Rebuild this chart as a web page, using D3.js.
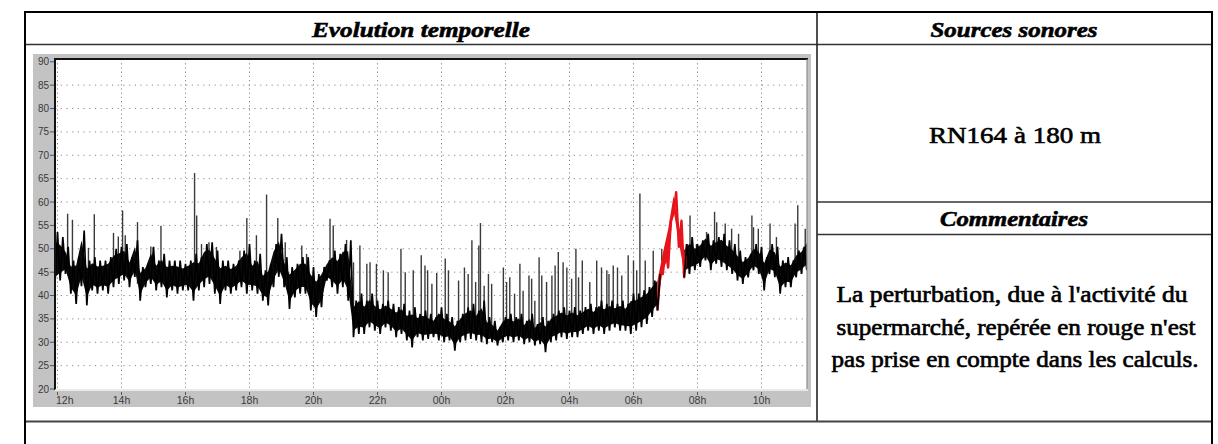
<!DOCTYPE html>
<html><head><meta charset="utf-8">
<script src="https://cdn.jsdelivr.net/npm/d3@7"></script>
<style>
body{margin:0;background:#fff}svg{display:block}
.serif{font-family:"Liberation Serif","Times New Roman",Times,serif}
.sans{font-family:"Liberation Sans",Arial,Helvetica,sans-serif}
</style>
</head><body>
<svg id="c" width="1218" height="444"></svg>
<script>
// ---- data ----
const yTicks = [20,25,30,35,40,45,50,55,60,65,70,75,80,85,90];
const xTickMinutes = [0,120,240,360,480,600,720,840,960,1080,1200,1320]; // minutes after 12h
const xTickLabels = ["12h","14h","16h","18h","20h","22h","00h","02h","04h","06h","08h","10h"];

// 10-minute min/max envelope of the level (dB), first sample at 11h55
const sampleStartMinute = -5;
const sampleStepMinutes = 10;
const bandLow = [
41.8,43.2,44.6,40.4,38.2,42.0,37.9,41.1,40.4,41.1,40.4,41.8,42.5,43.2,41.8,44.0,38.9,41.8,42.5,41.1,
41.8,39.6,41.1,40.4,41.1,41.1,38.9,41.1,41.8,42.5,40.4,38.2,41.1,40.4,41.1,41.8,
40.4,41.1,40.4,38.9,37.9,41.8,44.0,41.8,37.1,39.6,40.4,40.4,36.8,35.4,37.5,43.2,41.8,40.4,41.8,38.9,
31.1,31.8,31.8,33.2,32.5,31.8,33.2,32.5,31.1,31.8,30.4,28.9,31.1,30.4,30.7,31.1,
30.4,30.0,30.4,28.2,30.0,30.4,30.7,30.4,30.0,29.6,30.0,29.3,30.0,30.4,30.0,30.4,29.6,30.0,29.3,29.6,
27.9,30.0,30.4,31.1,30.7,31.1,31.1,31.8,32.5,31.8,32.5,31.8,32.5,33.2,32.5,32.5,
31.8,32.5,33.2,33.9,35.4,36.8,44.6,46.0,57.5,50.4,43.9,44.6,45.4,46.1,47.5,45.4,46.8,46.1,45.4,44.6,
43.2,42.5,43.9,45.4,44.6,41.1,44.6,43.9,40.4,41.8,41.8,43.9,44.6,45.4
];
const bandHigh = [
53.6,52.5,50.4,47.5,48.2,53.9,47.5,48.2,47.5,47.5,48.2,50.0,50.4,51.0,48.2,51.8,46.1,46.8,50.4,47.5,
48.9,47.5,47.5,47.5,46.8,47.5,48.9,48.2,51.0,51.4,49.6,47.5,47.5,46.8,47.5,49.6,
51.0,47.5,48.9,45.4,46.8,51.0,53.2,48.2,46.1,46.8,48.2,48.2,46.1,44.6,46.1,47.5,49.6,48.9,51.0,51.8,
38.9,40.4,38.9,40.4,38.9,38.2,38.9,38.2,37.5,38.2,36.8,37.5,36.1,36.8,36.1,35.4,
37.5,36.1,35.4,34.6,36.1,37.5,38.2,36.8,38.9,35.4,34.6,33.2,35.4,36.1,35.4,36.1,34.6,36.1,33.9,35.4,
34.6,36.1,36.8,37.5,36.8,37.5,36.8,37.5,38.2,37.5,38.9,38.2,38.9,38.2,38.9,38.2,
40.4,40.4,41.1,41.8,43.2,44.6,50.0,56.0,62.1,56.0,51.0,52.5,51.0,51.8,53.2,51.8,52.5,53.2,51.8,51.0,
49.6,48.2,48.9,51.0,50.4,48.2,51.0,50.4,47.5,48.2,47.5,49.6,50.4,52.5
];

// isolated peaks: minutes after 12h and level (dB)
const peakMinutes = [19,28,58,69,105,114,122,127,150,175,194,257,261,270,284,298,342,
355,373,392,413,427,458,467,511,517,542,555,567,580,586,598,611,620,644,652,667,682,689,694,702,
711,727,733,752,763,770,777,784,790,793,800,808,814,836,842,848,857,867,873,884,889,895,903,908,
917,927,933,939,948,955,964,972,977,984,998,1011,1020,1030,1034,1042,1050,1058,
1070,1080,1086,1092,1102,1117,1133,1186,1198,1217,1232,1236,1252,1264,1277,1302,1305,1314,1336,1348,1383,1388,1402];
const peakLevels = [57.5,56.2,50.2,57.4,53.4,52.6,58.2,52.9,55.7,50.5,54.9,66.2,57.1,51.0,51.4,50.4,49.6,
56.6,52.9,61.6,56.6,51.4,50.7,48.9,56.4,55.0,51.9,47.1,50.7,46.8,47.1,46.8,45.4,45.0,50.0,45.0,45.4,48.6,46.4,45.4,42.5,
44.8,47.9,45.4,43.2,46.0,44.6,51.8,42.9,50.7,55.5,42.1,44.6,42.5,46.0,42.9,43.9,40.4,46.8,41.0,44.3,43.6,38.9,48.2,44.3,
42.9,44.3,46.4,49.3,47.1,46.0,43.6,50.0,43.9,47.5,42.9,47.5,46.0,45.4,44.6,46.4,46.0,44.3,
48.6,47.5,45.4,61.8,47.5,49.6,50.0,57.1,51.0,53.6,57.9,55.7,55.4,54.3,53.2,57.1,54.6,54.3,55.4,52.5,55.4,59.3,54.3];

// disturbance (supermarket activity), shown in red: 06h55 - 07h25
const redFromMinute = 1135;
const redToMinute = 1165;

// ---- drawing ----
const svg = d3.select("#c");

// chart widget background
svg.append("rect").attr("x",33).attr("y",54).attr("width",778).attr("height",353).attr("fill","#c3c3c3");
svg.append("rect").attr("x",55).attr("y",59).attr("width",752).attr("height",330).attr("fill","#fff");

const x = d3.scaleLinear().domain([0,1440]).range([57.5,825.5]);
const y = d3.scaleLinear().domain([20,90]).range([389,61.8]);

svg.append("defs").append("clipPath").attr("id","plotclip")
  .append("rect").attr("x",55).attr("y",59).attr("width",752).attr("height",330);

// grid
const grid = svg.append("g").attr("clip-path","url(#plotclip)");
grid.selectAll(".hg").data(yTicks.filter(v=>v>20&&v<90)).join("line")
  .attr("x1",55).attr("x2",807).attr("y1",d=>y(d)).attr("y2",d=>y(d))
  .attr("stroke","#8a8a8a").attr("stroke-width",1).attr("stroke-dasharray","1.2,4.5");
grid.selectAll(".vg").data(xTickMinutes).join("line")
  .attr("x1",d=>x(d)).attr("x2",d=>x(d)).attr("y1",59).attr("y2",389)
  .attr("stroke","#8a8a8a").attr("stroke-width",1).attr("stroke-dasharray","1.2,3");

// samples: each 10-min slot drawn min -> max (min/max decimated trace)
const samples = bandLow.map((v,i)=>({t: sampleStartMinute + i*sampleStepMinutes, lo: v, hi: bandHigh[i]}));
const trace = [];
samples.forEach(d=>{ trace.push({t:d.t, v:d.lo}); trace.push({t:d.t+sampleStepMinutes/2, v:d.hi}); });
const plot = svg.append("g").attr("clip-path","url(#plotclip)");

// peaks
plot.selectAll(".pk").data(peakMinutes.map((t,i)=>({t, v: peakLevels[i]}))).join("line")
  .attr("x1",d=>x(d.t)).attr("x2",d=>x(d.t))
  .attr("y1",d=>y(d.v))
  .attr("y2",d=>{const i=Math.max(0,Math.min(samples.length-1,Math.round((d.t-sampleStartMinute)/sampleStepMinutes)));return y((samples[i].lo+samples[i].hi)/2);})
  .attr("stroke","#3a3a3a").attr("stroke-width",1.4);

const line = d3.line().x(d=>x(d.t)).y(d=>y(d.v));
const core = 0.18;
const area = d3.area().x(d=>x(d.t)).y0(d=>y(d.lo+(d.hi-d.lo)*core)).y1(d=>y(d.hi-(d.hi-d.lo)*core));
const isRed = t => t>=redFromMinute && t<=redToMinute+sampleStepMinutes/2;
// dense core of the black trace
plot.append("path").datum(samples).attr("d",area.defined(d=>!isRed(d.t)))
  .attr("fill","#0a0a0a");
// red part (neighbouring points included so the trace stays continuous)
const redSamples = samples.filter(d=>d.t>=redFromMinute-10 && d.t<=redToMinute+10);
plot.append("path").datum(redSamples).attr("d",d3.area().x(d=>x(d.t)).y0(d=>y(d.lo+(d.hi-d.lo)*core)).y1(d=>y(d.hi-(d.hi-d.lo)*core)))
  .attr("fill","#e8141b");
plot.append("path").datum(trace.filter(d=>d.t>=redFromMinute-10 && d.t<=redToMinute+15)).attr("d",line)
  .attr("fill","none").attr("stroke","#e8141b").attr("stroke-width",2.4).attr("stroke-linejoin","round");
// black part
plot.append("path").datum(trace).attr("d",line.defined(d=>!isRed(d.t)))
  .attr("fill","none").attr("stroke","#000").attr("stroke-width",1.7).attr("stroke-linejoin","bevel");

// plot borders (inset look)
svg.append("line").attr("x1",55).attr("x2",55).attr("y1",58).attr("y2",390).attr("stroke","#111").attr("stroke-width",2);
svg.append("line").attr("x1",54).attr("x2",808).attr("y1",59).attr("y2",59).attr("stroke","#111").attr("stroke-width",2);
svg.append("line").attr("x1",807).attr("x2",807).attr("y1",59).attr("y2",390).attr("stroke","#8c8c8c").attr("stroke-width",1.2);
svg.append("line").attr("x1",55).attr("x2",808).attr("y1",390).attr("y2",390).attr("stroke","#f4f4f4").attr("stroke-width",1.5);

// y axis
const ya = svg.append("g");
ya.selectAll("text").data(yTicks).join("text").attr("class","sans")
  .attr("x",49).attr("y",d=>y(d)+3.5).attr("text-anchor","end")
  .attr("font-size",10).attr("fill","#3a3a3a").text(d=>d);
ya.selectAll("line").data(yTicks).join("line")
  .attr("x1",50).attr("x2",54).attr("y1",d=>y(d)).attr("y2",d=>y(d))
  .attr("stroke","#555").attr("stroke-width",1);

// x axis
const xa = svg.append("g");
xa.selectAll("line").data(xTickMinutes).join("line")
  .attr("x1",d=>x(d)).attr("x2",d=>x(d)).attr("y1",392).attr("y2",395)
  .attr("stroke","#555").attr("stroke-width",1);
xa.selectAll("text").data(xTickMinutes).join("text").attr("class","sans")
  .attr("x",(d,i)=> i===0 ? 56 : x(d)).attr("y",403.5)
  .attr("text-anchor",(d,i)=> i===0 ? "start" : "middle")
  .attr("font-size",10.5).attr("fill","#3a3a3a")
  .text((d,i)=>xTickLabels[i]);

// table lines
const tl = svg.append("g").attr("fill","none");
tl.append("line").attr("x1",25).attr("x2",1212).attr("y1",44.5).attr("y2",44.5).attr("stroke","#333").attr("stroke-width",1.6);
tl.append("line").attr("x1",817).attr("x2",817).attr("y1",12).attr("y2",421).attr("stroke","#222").attr("stroke-width",1.6);
tl.append("line").attr("x1",817).attr("x2",1212).attr("y1",202).attr("y2",202).attr("stroke","#333").attr("stroke-width",1.6);
tl.append("line").attr("x1",817).attr("x2",1212).attr("y1",234.5).attr("y2",234.5).attr("stroke","#333").attr("stroke-width",1.6);
tl.append("line").attr("x1",25).attr("x2",1212).attr("y1",421.5).attr("y2",421.5).attr("stroke","#444").attr("stroke-width",2);
tl.append("rect").attr("x",25).attr("y",12).attr("width",1187).attr("height",450).attr("stroke","#000").attr("stroke-width",2);

// texts
function txt(s, cx, by, size, w, opts={}){
  const t = svg.append("text").attr("class","serif").attr("x",cx).attr("y",by).attr("text-anchor","middle")
    .attr("font-size",size).attr("fill","#000")
    .attr("font-weight",opts.bold?"bold":"normal").attr("font-style",opts.italic?"italic":"normal")
    .attr("textLength",w).attr("lengthAdjust","spacingAndGlyphs").text(s);
  if(opts.heavy) t.attr("stroke","#000").attr("stroke-width",opts.heavy);
  return t;
}
txt("Evolution temporelle", 421, 37, 22, 218, {bold:true, italic:true, heavy:0.6});
txt("Sources sonores", 1014, 36.5, 22, 167, {bold:true, italic:true, heavy:0.6});
txt("Commentaires", 1014, 226, 22, 148, {bold:true, italic:true, heavy:0.6});
txt("RN164 à 180 m", 1015, 143, 23, 172, {heavy:0.6});
txt("La perturbation, due à l'activité du", 1012, 302, 23, 351, {heavy:0.65});
txt("supermarché, repérée en rouge n'est", 1016, 334.5, 23, 359, {heavy:0.65});
txt("pas prise en compte dans les calculs.", 1015, 367, 23, 367, {heavy:0.65});
</script>
</body></html>
